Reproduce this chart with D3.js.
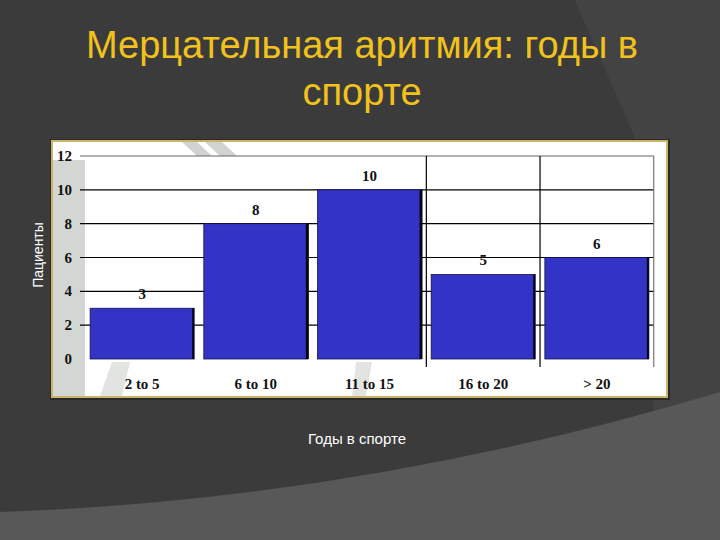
<!DOCTYPE html>
<html>
<head>
<meta charset="utf-8">
<script src="https://cdn.jsdelivr.net/npm/d3@7"></script>
<style>
  body { margin: 0; background: #3b3b3b; }
  svg { display: block; }
</style>
</head>
<body>
<svg id="chart" width="720" height="540"></svg>
<script>
// data
var categories = ["2 to 5", "6 to 10", "11 to 15", "16 to 20", "> 20"];
var patients = [3, 8, 10, 5, 6];
var yTicks = [0, 2, 4, 6, 8, 10, 12];
var titleLines = ["Мерцательная аритмия: годы в", "спорте"];

var svg = d3.select("#chart");

// slide background
svg.append("rect").attr("width", 720).attr("height", 540).attr("fill", "#3b3b3b");
svg.append("path")
    .attr("d", "M575,0 L720,0 L720,540 L660,540 L640,150 Z")
    .attr("fill", "#434343");
svg.append("path")
    .attr("d", "M0,512 Q360,500 720,392 L720,540 L0,540 Z")
    .attr("fill", "#585858");

// title
svg.selectAll(".title")
    .data(titleLines)
    .enter().append("text")
    .attr("x", 362)
    .attr("y", function (d, i) { return 58 + i * 47; })
    .attr("text-anchor", "middle")
    .style("font-family", "'Liberation Sans', Arial, sans-serif")
    .style("font-size", "38px")
    .style("fill", "#f2c21c")
    .text(function (d) { return d; });

// chart panel
svg.append("rect")
    .attr("x", 50).attr("y", 139).attr("width", 620).attr("height", 261)
    .attr("fill", "#2a2a2a");
svg.append("rect")
    .attr("x", 52).attr("y", 141).attr("width", 615).attr("height", 256)
    .attr("fill", "#ffffff")
    .attr("stroke", "#c9b46a")
    .attr("stroke-width", 2);
svg.append("rect")
    .attr("x", 53).attr("y", 160).attr("width", 32).attr("height", 236)
    .attr("fill", "#d3d7d3");
// faint watermark stripes behind the plot
svg.append("path").attr("d", "M182,142 L197,142 L212,156 L197,156 Z").attr("fill", "#d0d3d0");
svg.append("path").attr("d", "M205,142 L222,142 L237,156 L220,156 Z").attr("fill", "#d0d3d0");
svg.append("path").attr("d", "M100,396 L112,362 L130,362 L122,396 Z").attr("fill", "#e1e4e1");
svg.append("path").attr("d", "M352,396 L356,362 L372,362 L366,396 Z").attr("fill", "#e1e4e1");

var x = d3.scaleBand()
    .domain(categories)
    .range([85, 654])
    .paddingInner(0.085)
    .paddingOuter(0.045);

var y = d3.scaleLinear()
    .domain([0, 12])
    .range([359, 156]);

var gap = (x.step() - x.bandwidth()) / 2;

// horizontal grid lines
svg.selectAll(".hgrid")
    .data(yTicks.filter(function (d) { return d > 0; }))
    .enter().append("line")
    .attr("x1", 80).attr("x2", 654)
    .attr("y1", function (d) { return y(d); })
    .attr("y2", function (d) { return y(d); })
    .attr("stroke", function (d) { return d == 12 ? "#666" : "#000"; })
    .attr("stroke-width", 1.2);

// vertical lines between the last categories
svg.selectAll(".vgrid")
    .data(categories.slice(2))
    .enter().append("line")
    .attr("x1", function (d) { return x(d) + x.bandwidth() + gap; })
    .attr("x2", function (d) { return x(d) + x.bandwidth() + gap; })
    .attr("y1", y(12)).attr("y2", y(0) + 8)
    .attr("stroke", function (d, i) { return i == 2 ? "#777" : "#000"; })
    .attr("stroke-width", 1.2);

// bars
svg.selectAll(".bar")
    .data(patients)
    .enter().append("rect")
    .attr("x", function (d, i) { return x(categories[i]); })
    .attr("y", function (d) { return y(d); })
    .attr("width", x.bandwidth())
    .attr("height", function (d) { return y(0) - y(d); })
    .attr("fill", "#3333c6")
    .attr("stroke", "#14144a")
    .attr("stroke-width", 0.8);

// dark right edge of the bars
svg.selectAll(".edge")
    .data(patients)
    .enter().append("rect")
    .attr("x", function (d, i) { return x(categories[i]) + x.bandwidth() - 2; })
    .attr("y", function (d) { return y(d); })
    .attr("width", function (d, i) { return (i == 1 || i == 2) ? 3 : 2; })
    .attr("height", function (d) { return y(0) - y(d); })
    .attr("fill", "#05051a");

// value labels
svg.selectAll(".val")
    .data(patients)
    .enter().append("text")
    .attr("x", function (d, i) { return x(categories[i]) + x.bandwidth() / 2; })
    .attr("y", function (d) { return y(d) - 9; })
    .attr("text-anchor", "middle")
    .style("font-family", "'Liberation Serif', 'Times New Roman', serif")
    .style("font-weight", "bold")
    .style("font-size", "15px")
    .style("fill", "#111")
    .text(function (d) { return d; });

// y tick labels
svg.selectAll(".ytick")
    .data(yTicks)
    .enter().append("text")
    .attr("x", 72)
    .attr("y", function (d) { return y(d) + 5; })
    .attr("text-anchor", "end")
    .style("font-family", "'Liberation Serif', 'Times New Roman', serif")
    .style("font-weight", "bold")
    .style("font-size", "15px")
    .style("fill", "#111")
    .text(function (d) { return d; });

// x category labels
svg.selectAll(".xtick")
    .data(categories)
    .enter().append("text")
    .attr("x", function (d) { return x(d) + x.bandwidth() / 2; })
    .attr("y", 389)
    .attr("text-anchor", "middle")
    .style("font-family", "'Liberation Serif', 'Times New Roman', serif")
    .style("font-weight", "bold")
    .style("font-size", "15px")
    .style("fill", "#111")
    .text(function (d) { return d; });

// axis titles
svg.append("text")
    .attr("transform", "translate(43,255) rotate(-90)")
    .attr("text-anchor", "middle")
    .style("font-family", "'Liberation Sans', Arial, sans-serif")
    .style("font-size", "14px")
    .style("fill", "#ffffff")
    .text("Пациенты");

svg.append("text")
    .attr("x", 357)
    .attr("y", 444)
    .attr("text-anchor", "middle")
    .style("font-family", "'Liberation Sans', Arial, sans-serif")
    .style("font-size", "15px")
    .style("fill", "#ffffff")
    .text("Годы в спорте");
</script>
</body>
</html>
